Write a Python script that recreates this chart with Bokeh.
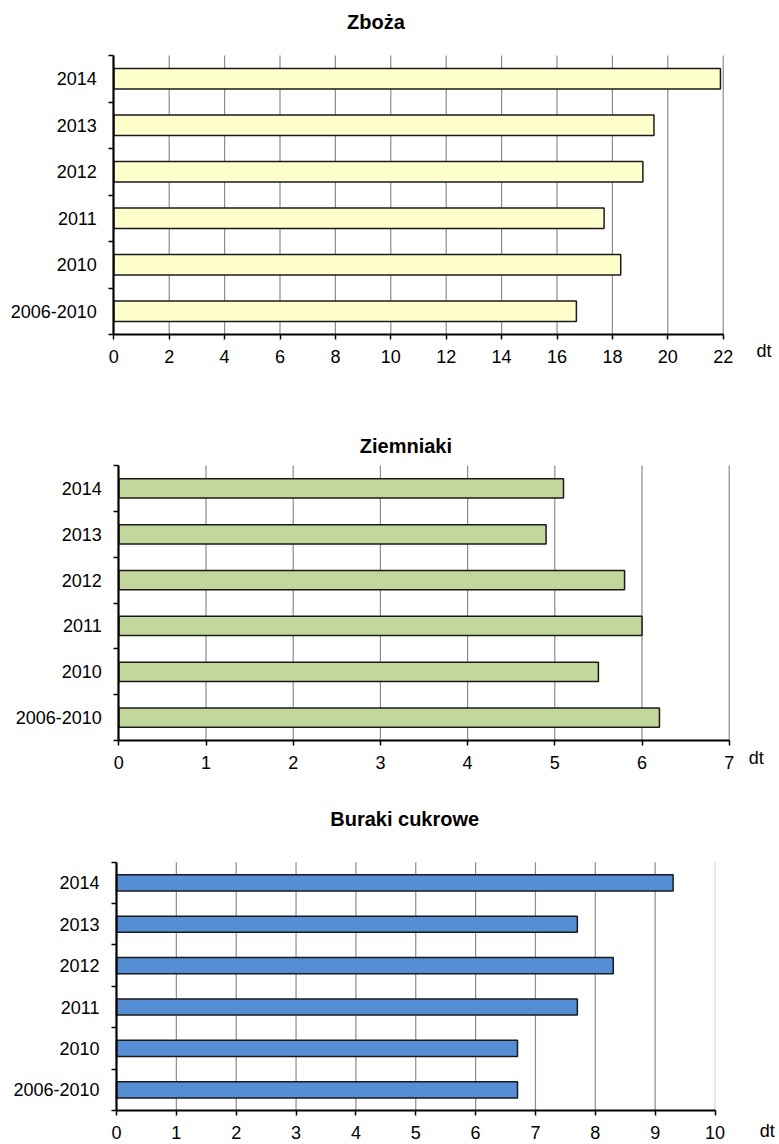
from bokeh.plotting import figure
from bokeh.layouts import column
from bokeh.models import (Range1d, FixedTicker, SingleIntervalTicker, Label,
                          ColumnDataSource)
from bokeh.embed import file_html
from bokeh.resources import INLINE

# ---------------- data ----------------
categories = ["2006-2010", "2010", "2011", "2012", "2013", "2014"]
zboza = [16.7, 18.3, 17.7, 19.1, 19.5, 21.9]
ziemniaki = [6.2, 5.5, 6.0, 5.8, 4.9, 5.1]
buraki = [6.7, 6.7, 7.7, 8.3, 7.7, 9.3]

titles = ["Zboża", "Ziemniaki", "Buraki cukrowe"]
x_max = [22, 7, 10]
x_step = [2, 1, 1]
unit = "dt"

# ---------------- style / layout ----------------
colors = ["#FFFFCC", "#C3D69B", "#558ED5"]
FONT = "Liberation Sans"
TICK_SIZE = "18px"
W = 779

# pixel targets (figure-local): x of value 0 and of x_max, y of top/bottom of the plot
cfgs = [
    dict(H=400, x0=113.3, x1=722.7, yt=55.0, yb=334.0, tx=375.5, ty=21.5,
         dtx=756.0, dty=350.0, bh=0.44, light_last=False),
    dict(H=390, x0=118.3, x1=728.7, yt=65.0, yb=340.0, tx=405.4, ty=45.0,
         dtx=748.3, dty=357.0, bh=0.42, light_last=False),
    dict(H=354, x0=116.0, x1=714.5, yt=71.7, yb=320.0, tx=404.2, ty=28.5,
         dtx=759.3, dty=340.0, bh=0.39, light_last=True),
]


def make_chart(title, values, xmax, step, color, c):
    n = len(categories)
    centers = [i + 0.5 for i in range(n)]
    sx = (c["x1"] - c["x0"]) / xmax
    sy = (c["yb"] - c["yt"]) / n
    xr = Range1d(-c["x0"] / sx, (W - c["x0"]) / sx)
    yr = Range1d(-(c["H"] - c["yb"]) / sy, n + c["yt"] / sy)

    def dx(px):
        return (px - c["x0"]) / sx

    def dy(py):
        return (c["yb"] - py) / sy

    p = figure(width=W, height=c["H"], output_backend="svg", toolbar_location=None,
               title=None, x_range=xr, y_range=yr,
               min_border_left=0, min_border_right=0,
               min_border_top=0, min_border_bottom=0)
    p.outline_line_color = None
    p.background_fill_color = "white"
    p.border_fill_color = "white"
    p.xgrid.visible = False
    p.ygrid.visible = False

    # vertical grid lines at the x ticks
    gticks = list(range(step, xmax + 1, step))
    gcols = ["#D9D9D9" if (c["light_last"] and t == xmax) else "#8C8C8C" for t in gticks]
    p.segment(x0=gticks, y0=[0] * len(gticks), x1=gticks, y1=[n] * len(gticks),
              line_color=gcols, line_width=1.2)

    src = ColumnDataSource(dict(y=centers, v=values, cat=categories))
    p.hbar(y="y", right="v", left=0, height=c["bh"], source=src,
           fill_color=color, line_color="#1A1A1A", line_width=1.5)

    # x axis (value axis) drawn at y = 0
    xa = p.xaxis[0]
    xa.fixed_location = 0
    xa.bounds = (0, xmax)
    xa.ticker = SingleIntervalTicker(interval=step)
    xa.axis_line_width = 2.2
    xa.axis_line_color = "black"
    xa.major_tick_out = 5
    xa.major_tick_in = 0
    xa.major_tick_line_color = "black"
    xa.major_tick_line_width = 1.5
    xa.minor_tick_line_color = None
    xa.major_label_text_font = FONT
    xa.major_label_text_font_size = TICK_SIZE
    xa.major_label_text_color = "black"
    xa.major_label_standoff = 10

    # y axis (categories): labels at band centres, ticks at band boundaries
    ya = p.yaxis[0]
    ya.fixed_location = 0
    ya.bounds = (0, n)
    ya.ticker = FixedTicker(ticks=centers, minor_ticks=list(range(0, n + 1)))
    ya.major_label_overrides = {ct: lab for ct, lab in zip(centers, categories)}
    ya.axis_line_width = 2.2
    ya.axis_line_color = "black"
    ya.major_tick_line_color = None
    ya.major_tick_out = 0
    ya.major_tick_in = 0
    ya.minor_tick_out = 5
    ya.minor_tick_in = 0
    ya.minor_tick_line_color = "black"
    ya.minor_tick_line_width = 1.5
    ya.major_label_text_font = FONT
    ya.major_label_text_font_size = TICK_SIZE
    ya.major_label_text_color = "black"
    ya.major_label_standoff = 12

    # chart title
    p.add_layout(Label(x=dx(c["tx"]), y=dy(c["ty"]), text=title,
                       text_font=FONT, text_font_size="20px", text_font_style="bold",
                       text_color="black", text_align="center", text_baseline="middle"))
    # unit label
    p.add_layout(Label(x=dx(c["dtx"]), y=dy(c["dty"]), text=unit,
                       text_font=FONT, text_font_size=TICK_SIZE, text_color="black",
                       text_align="left", text_baseline="middle"))
    return p


series = [zboza, ziemniaki, buraki]
plots = [make_chart(t, v, m, s, col, cfg)
         for t, v, m, s, col, cfg in zip(titles, series, x_max, x_step, colors, cfgs)]

layout = column(*plots, spacing=0)
open("out.html", "w").write(file_html(layout, INLINE))
